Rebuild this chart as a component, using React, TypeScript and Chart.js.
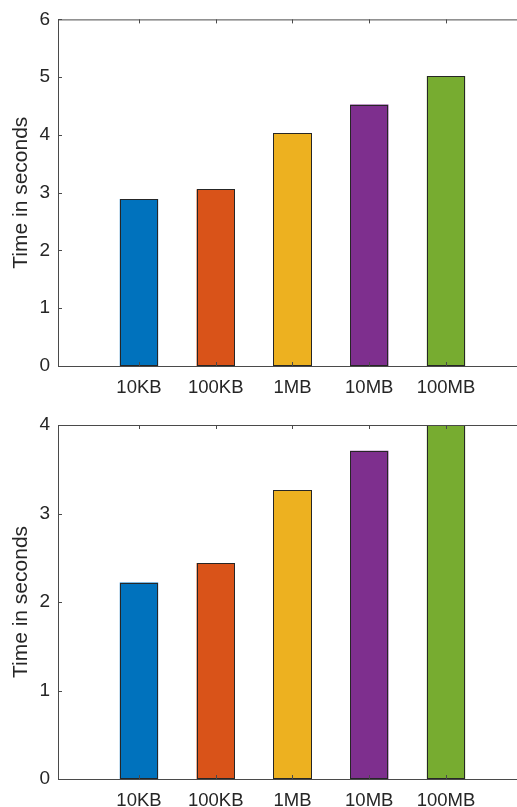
import React, { useEffect, useRef } from "react";
import { Chart, registerables } from "chart.js";

Chart.register(...registerables);

const categories = ["10KB", "100KB", "1MB", "10MB", "100MB"];
const timesTop = [2.89, 3.06, 4.03, 4.525, 5.02];
const timesBottom = [2.22, 2.44, 3.26, 3.71, 4.0];
const barColors = ["#0072BD", "#D95319", "#EDB120", "#7E2F8E", "#77AC30"];
const yTicksTop = [0, 1, 2, 3, 4, 5, 6];
const yTicksBottom = [0, 1, 2, 3, 4];

const FONT = "'Liberation Sans', Arial, Helvetica, sans-serif";
const AXIS_COLOR = "#4a4a4a";
const TEXT_COLOR = "#262626";
const EDGE_COLOR = "#262626";

const matlabAxes = {
  id: "matlabAxes",
  afterDatasetsDraw(chart: any) {
    const { ctx, chartArea } = chart;
    const xs = chart.scales.x;
    const ys = chart.scales.y;
    const { left, right, top, bottom } = chartArea;
    ctx.save();
    // bar outlines
    ctx.strokeStyle = EDGE_COLOR;
    ctx.lineWidth = 1;
    const meta = chart.getDatasetMeta(0);
    meta.data.forEach((bar: any) => {
      const { x, y, base, width } = bar.getProps(["x", "y", "base", "width"], true);
      const x0 = Math.round(x - width / 2) + 0.5;
      const x1 = Math.round(x + width / 2) - 0.5;
      const y0 = Math.round(Math.min(y, base)) + 0.5;
      const y1 = Math.round(Math.max(y, base)) - 0.5;
      ctx.strokeRect(x0, y0, x1 - x0, y1 - y0);
    });
    ctx.strokeStyle = AXIS_COLOR;
    ctx.beginPath();
    ctx.moveTo(left + 0.5, top + 0.5);
    ctx.lineTo(left + 0.5, bottom + 0.5);
    ctx.moveTo(left, bottom + 0.5);
    ctx.lineTo(right, bottom + 0.5);
    ctx.moveTo(left, top + 0.5);
    ctx.lineTo(right, top + 0.5);
    const tl = 4;
    xs.ticks.forEach((t: any) => {
      const px = Math.round(xs.getPixelForValue(t.value)) + 0.5;
      ctx.moveTo(px, bottom);
      ctx.lineTo(px, bottom - tl);
      ctx.moveTo(px, top);
      ctx.lineTo(px, top + tl);
    });
    ys.ticks.forEach((t: any) => {
      const py = Math.round(ys.getPixelForValue(t.value)) + 0.5;
      ctx.moveTo(left, py);
      ctx.lineTo(left + tl, py);
    });
    ctx.stroke();
    ctx.restore();
  },
};

function BarPanel({
  values,
  yTicks,
  height,
  padTop,
  xAxisHeight,
}: {
  values: number[];
  yTicks: number[];
  height: number;
  padTop: number;
  xAxisHeight: number;
}) {
  const ref = useRef<HTMLCanvasElement | null>(null);
  useEffect(() => {
    if (!ref.current) return;
    const chart = new Chart(ref.current, {
      type: "bar",
      data: {
        datasets: [
          {
            data: values.map((v, i) => ({ x: i + 1, y: v })),
            backgroundColor: barColors,
            borderWidth: 0,
            barPercentage: 0.5,
            categoryPercentage: 1,
          },
        ],
      },
      options: {
        animation: false,
        responsive: false,
        layout: { padding: { top: padTop, right: 0, bottom: 0, left: 0 } },
        plugins: {
          legend: { display: false },
          tooltip: { enabled: false },
        },
        scales: {
          x: {
            type: "linear",
            offset: false,
            min: -0.055,
            max: 5.925,
            grid: { display: false, drawTicks: false, offset: false },
            border: { display: false },
            afterBuildTicks: (scale: any) => {
              scale.ticks = categories.map((_, i) => ({ value: i + 1 }));
            },
            afterFit: (scale: any) => {
              scale.height = xAxisHeight;
            },
            ticks: {
              autoSkip: false,
              maxRotation: 0,
              padding: 11,
              color: TEXT_COLOR,
              font: { family: FONT, size: 18.5 },
              callback: (v: any) => categories[Math.round(Number(v)) - 1] ?? "",
            },
          },
          y: {
            min: yTicks[0],
            max: yTicks[yTicks.length - 1],
            grid: { display: false, drawTicks: false },
            border: { display: false },
            afterBuildTicks: (scale: any) => {
              scale.ticks = yTicks.map((v) => ({ value: v }));
            },
            afterFit: (scale: any) => {
              scale.width = 58;
            },
            ticks: {
              padding: 8,
              color: TEXT_COLOR,
              font: { family: FONT, size: 19 },
            },
            title: {
              display: true,
              text: "Time in seconds",
              color: TEXT_COLOR,
              font: { family: FONT, size: 21 },
              padding: { top: 9, bottom: 0 },
            },
          },
        },
      },
      plugins: [matlabAxes],
    });
    return () => chart.destroy();
  }, []);
  return <canvas ref={ref} width={517} height={height} style={{ display: "block" }} />;
}

export default function App() {
  return (
    <div
      style={{
        position: "absolute",
        left: 0,
        top: 0,
        width: 517,
        height: 807,
        overflow: "hidden",
        background: "#ffffff",
      }}
    >
      <BarPanel values={timesTop} yTicks={yTicksTop} height={400} padTop={12} xAxisHeight={34} />
      <BarPanel values={timesBottom} yTicks={yTicksBottom} height={407} padTop={25} xAxisHeight={28} />
    </div>
  );
}
